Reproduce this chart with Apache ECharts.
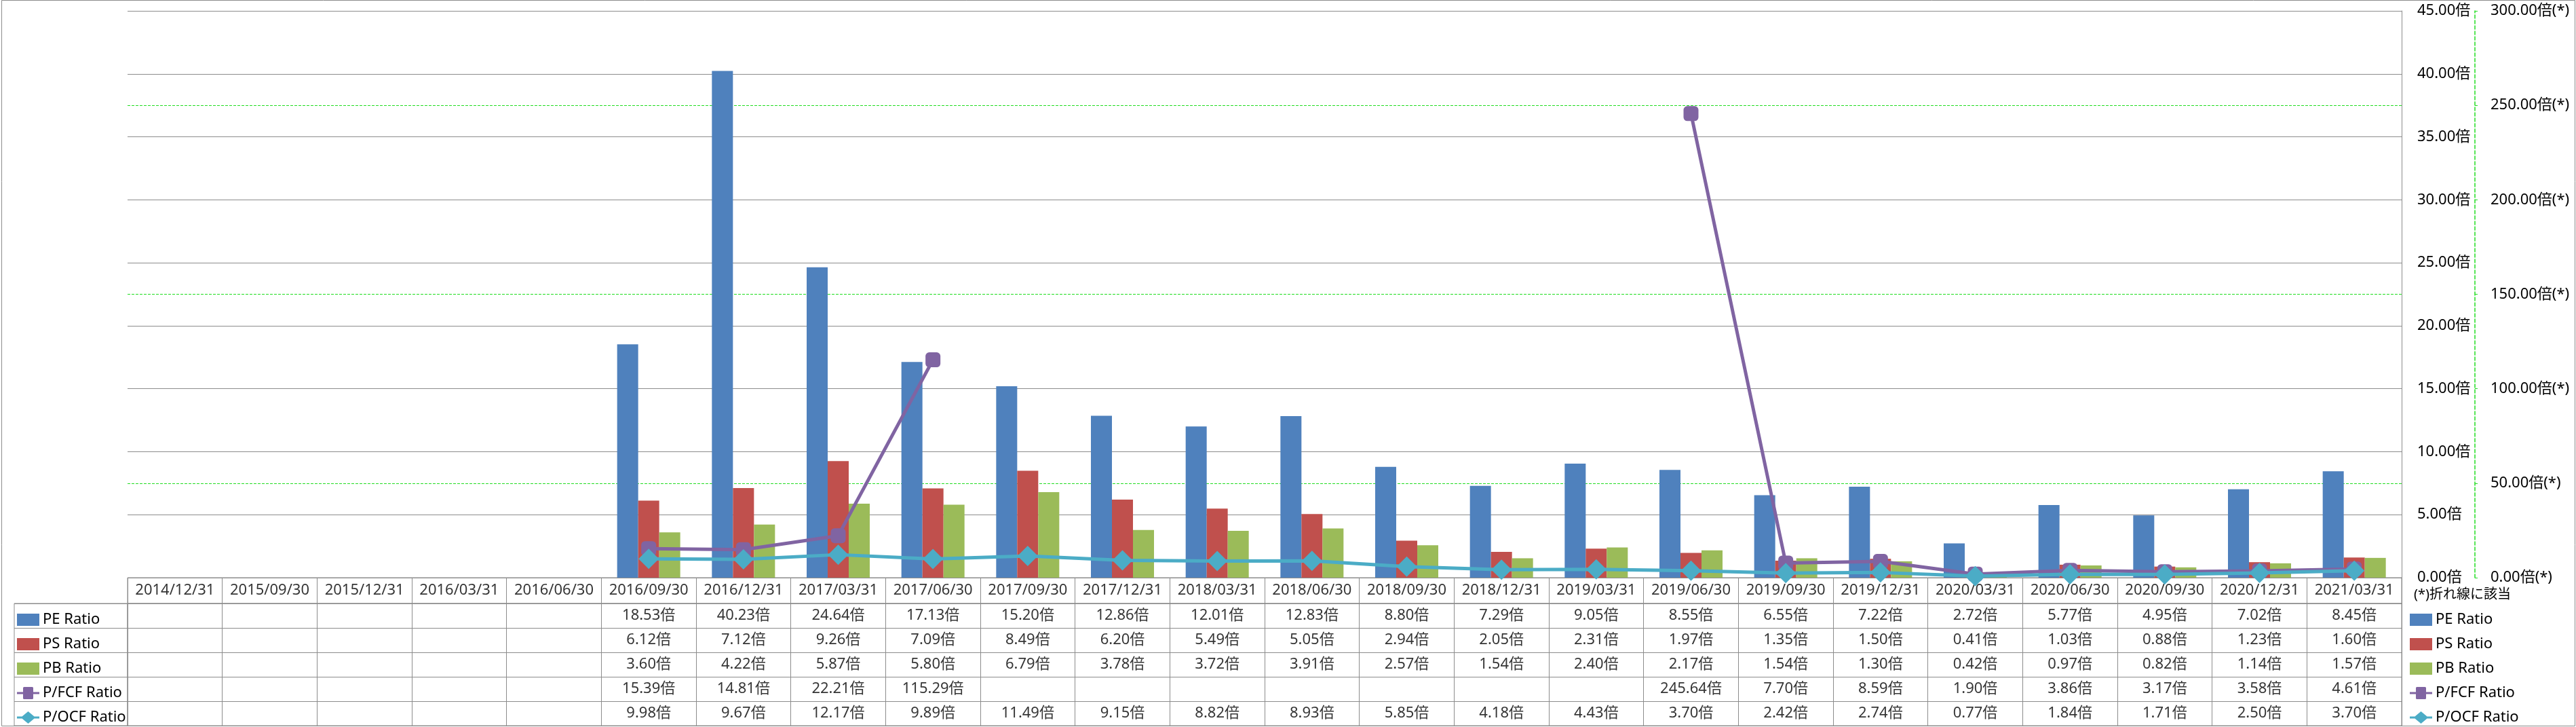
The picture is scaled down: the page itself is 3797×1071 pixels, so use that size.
<!DOCTYPE html>
<html><head><meta charset="utf-8">
<script src="https://cdn.jsdelivr.net/npm/echarts@6/dist/echarts.min.js"></script>
<style>html,body{margin:0;padding:0;background:#fff}#c{width:3797px;height:1071px}</style>
</head><body><div id="c"></div>
<script>
const categories = ['2014/12/31','2015/09/30','2015/12/31','2016/03/31','2016/06/30','2016/09/30','2016/12/31','2017/03/31','2017/06/30','2017/09/30','2017/12/31','2018/03/31','2018/06/30','2018/09/30','2018/12/31','2019/03/31','2019/06/30','2019/09/30','2019/12/31','2020/03/31','2020/06/30','2020/09/30','2020/12/31','2021/03/31'];
const peRatio  = [null,null,null,null,null,18.53,40.23,24.64,17.13,15.20,12.86,12.01,12.83,8.80,7.29,9.05,8.55,6.55,7.22,2.72,5.77,4.95,7.02,8.45];
const psRatio  = [null,null,null,null,null,6.12,7.12,9.26,7.09,8.49,6.20,5.49,5.05,2.94,2.05,2.31,1.97,1.35,1.50,0.41,1.03,0.88,1.23,1.60];
const pbRatio  = [null,null,null,null,null,3.60,4.22,5.87,5.80,6.79,3.78,3.72,3.91,2.57,1.54,2.40,2.17,1.54,1.30,0.42,0.97,0.82,1.14,1.57];
const pfcfRatio= [null,null,null,null,null,15.39,14.81,22.21,115.29,null,null,null,null,null,null,null,245.64,7.70,8.59,1.90,3.86,3.17,3.58,4.61];
const pocfRatio= [null,null,null,null,null,9.98,9.67,12.17,9.89,11.49,9.15,8.82,8.93,5.85,4.18,4.43,3.70,2.42,2.74,0.77,1.84,1.71,2.50,3.70];
const seriesNames = ['PE Ratio','PS Ratio','PB Ratio','P/FCF Ratio','P/OCF Ratio'];
const seriesValues = [peRatio, psRatio, pbRatio, pfcfRatio, pocfRatio];
const colors = ['#4F81BD','#C0504D','#9BBB59','#8064A2','#4BACC6'];
const primaryAxis = {min: 0, max: 45, interval: 5, suffix: '倍'};
const secondaryAxis = {min: 0, max: 300, interval: 50, suffix: '倍(*)'};
const noteText = '(*)折れ線に該当';

const FONT = "'Noto Sans', 'Noto Sans CJK JP', sans-serif";
const GRID_GREY = '#8C8C8C';
const GREEN = '#22DD22';
const FS = 22;

const fmt = v => v.toFixed(2) + '倍';

const headerData = categories.map(c => ({value: [c, 'date'], label: {formatter: c}}));
const bodyData = [];
seriesValues.forEach((arr, r) => {
  arr.forEach((v, i) => {
    if (v !== null) bodyData.push({value: [categories[i], seriesNames[r], v]});
  });
});

const legendIcons = {
  'P/FCF Ratio': 'path://M0,5 L6,5 L6,1 Q6,0 7,0 L15,0 Q16,0 16,1 L16,5 L22,5 L22,7 L16,7 L16,11 Q16,12 15,12 L7,12 Q6,12 6,11 L6,7 L0,7 Z',
  'P/OCF Ratio': 'path://M0,5 L5,5 L11,0 L17,5 L22,5 L22,7 L17,7 L11,12 L5,7 L0,7 Z'
};
const legendData = seriesNames.map(n => legendIcons[n] ? {name: n, icon: legendIcons[n]} : {name: n, icon: 'rect'});

const chart = echarts.init(document.getElementById('c'), null, {renderer: 'canvas'});
const legendBase = {orient: 'vertical', top: 902, height: 220, padding: 0, itemWidth: 33, itemHeight: 18, itemGap: 14, selectedMode: false,
  textStyle: {fontSize: FS, fontFamily: FONT, color: '#000'}, data: legendData};
const option = {
  backgroundColor: '#fff',
  animation: false,
  textStyle: {fontFamily: FONT},
  grid: [
    {left: 188, right: 257, top: 16, bottom: 220},
    {left: 188, right: 257, top: 851, height: 38, show: true, borderColor: GRID_GREY, borderWidth: 1},
    {left: 188, right: 257, top: 889, height: 180, show: true, borderColor: GRID_GREY, borderWidth: 1},
    {left: 21, width: 167, top: 889, height: 180, show: true, borderColor: GRID_GREY, borderWidth: 1}
  ],
  xAxis: [
    {type: 'category', gridIndex: 0, data: categories, axisLabel: {show: false}, axisTick: {show: false}, axisLine: {show: false}},
    {type: 'category', gridIndex: 1, data: categories, axisLabel: {show: false, interval: 0}, axisTick: {show: false}, axisLine: {show: false},
      splitLine: {show: true, interval: 0, lineStyle: {color: GRID_GREY, width: 1}}},
    {type: 'category', gridIndex: 2, data: categories, axisLabel: {show: false, interval: 0}, axisTick: {show: false}, axisLine: {show: false},
      splitLine: {show: true, interval: 0, lineStyle: {color: GRID_GREY, width: 1}}},
    {type: 'category', gridIndex: 3, data: [''], axisLabel: {show: false}, axisTick: {show: false}, axisLine: {show: false}}
  ],
  yAxis: [
    {type: 'value', gridIndex: 0, position: 'right', z: 1, min: primaryAxis.min, max: primaryAxis.max, interval: primaryAxis.interval,
      axisLine: {show: true, lineStyle: {color: GRID_GREY, width: 1}}, axisTick: {show: false},
      axisLabel: {margin: 23, color: '#000', fontSize: FS, fontFamily: FONT, formatter: v => v.toFixed(2) + primaryAxis.suffix},
      splitLine: {show: true, lineStyle: {color: GRID_GREY, width: 1}}},
    {type: 'value', gridIndex: 0, position: 'right', offset: 108, z: 0, min: secondaryAxis.min, max: secondaryAxis.max, interval: secondaryAxis.interval,
      axisLine: {show: true, lineStyle: {color: GREEN, width: 1.5, type: [5, 3]}},
      axisTick: {show: true, length: 4, lineStyle: {color: GREEN, width: 1}},
      axisLabel: {margin: 23, color: '#000', fontSize: FS, fontFamily: FONT, formatter: v => v.toFixed(2) + secondaryAxis.suffix},
      splitLine: {show: true, lineStyle: {color: GREEN, width: 1, type: [4, 2]}}},
    {type: 'category', gridIndex: 1, data: ['date'], axisLabel: {show: false}, axisTick: {show: false}, axisLine: {show: false}},
    {type: 'category', gridIndex: 2, data: seriesNames, inverse: true, axisLabel: {show: false, interval: 0}, axisTick: {show: false}, axisLine: {show: false},
      splitLine: {show: true, interval: 0, lineStyle: {color: GRID_GREY, width: 1}}},
    {type: 'category', gridIndex: 3, data: seriesNames, inverse: true, axisLabel: {show: false, interval: 0}, axisTick: {show: false}, axisLine: {show: false},
      splitLine: {show: true, interval: 0, lineStyle: {color: GRID_GREY, width: 1}}}
  ],
  legend: [
    Object.assign({}, legendBase, {left: 25}),
    Object.assign({}, legendBase, {left: 3552})
  ],
  series: [
    {name: seriesNames[0], type: 'bar', xAxisIndex: 0, yAxisIndex: 0, data: peRatio, barWidth: 31, barGap: '0%', itemStyle: {color: colors[0]}},
    {name: seriesNames[1], type: 'bar', xAxisIndex: 0, yAxisIndex: 0, data: psRatio, barWidth: 31, barGap: '0%', itemStyle: {color: colors[1]}},
    {name: seriesNames[2], type: 'bar', xAxisIndex: 0, yAxisIndex: 0, data: pbRatio, barWidth: 31, barGap: '0%', itemStyle: {color: colors[2]}},
    {name: seriesNames[3], type: 'line', xAxisIndex: 0, yAxisIndex: 1, data: pfcfRatio, symbol: 'roundRect', symbolSize: 22, showAllSymbol: true,
      connectNulls: false, lineStyle: {color: colors[3], width: 5}, itemStyle: {color: colors[3]}, z: 3},
    {name: seriesNames[4], type: 'line', xAxisIndex: 0, yAxisIndex: 1, data: pocfRatio, symbol: 'diamond', symbolSize: 30, showAllSymbol: true,
      lineStyle: {color: colors[4], width: 5}, itemStyle: {color: colors[4]}, z: 4},
    {type: 'scatter', xAxisIndex: 1, yAxisIndex: 2, data: headerData, symbolSize: 0, silent: true,
      label: {show: true, position: 'inside', color: '#000', fontSize: FS, fontFamily: FONT}},
    {type: 'scatter', xAxisIndex: 2, yAxisIndex: 3, data: bodyData, symbolSize: 0, silent: true,
      label: {show: true, position: 'inside', color: '#000', fontSize: FS, fontFamily: FONT, formatter: p => fmt(p.value[2])}}
  ],
  graphic: [
    {type: 'rect', shape: {x: 2.5, y: 0.5, width: 3793, height: 1069}, style: {fill: 'none', stroke: GRID_GREY, lineWidth: 1}, silent: true, z: -1},
    {type: 'text', left: 3558, top: 866, style: {text: noteText, fontSize: 20, fontFamily: FONT, fill: '#000'}, silent: true}
  ]
};
chart.setOption(option);
</script>
</body></html>
